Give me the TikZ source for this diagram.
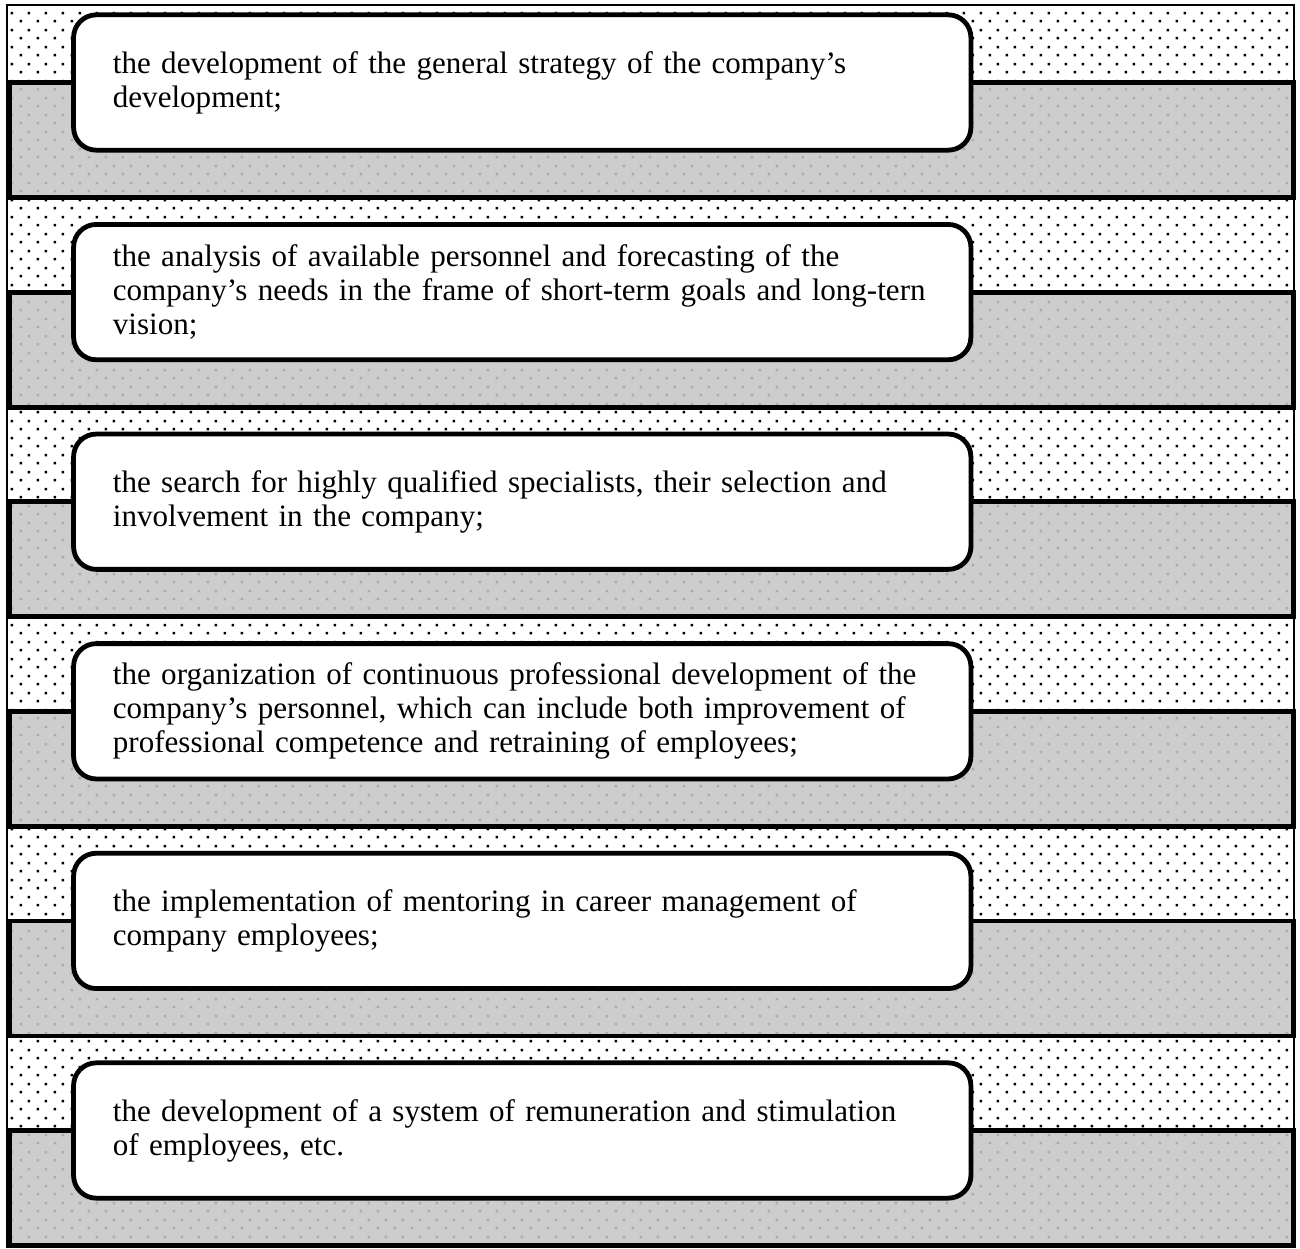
\documentclass[tikz,border=0pt]{standalone}
\usepackage{fontspec}
\setmainfont{Liberation Serif}
\usetikzlibrary{patterns}

% staggered square dots, 17px cell (0.75pt per unit)
\pgfdeclarepatternformonly{stagdots}{\pgfqpoint{0pt}{0pt}}{\pgfqpoint{12.75pt}{12.75pt}}{\pgfqpoint{12.75pt}{12.75pt}}{%
  \pgfpathrectangle{\pgfqpoint{2pt}{2pt}}{\pgfqpoint{2pt}{2pt}}%
  \pgfpathrectangle{\pgfqpoint{8.375pt}{8.375pt}}{\pgfqpoint{2pt}{2pt}}%
  \pgfusepath{fill}}

\definecolor{bandgray}{RGB}{205,205,205}
\definecolor{banddot}{RGB}{172,172,172}

\tikzset{
  frame/.style={draw=black, line width=1.1pt},
  band/.style={draw=black, line width=3.6pt},
  banddots/.style={pattern=stagdots, pattern color=banddot},
  itembox/.style={draw=black, line width=3.6pt, fill=white, rounded corners=17pt,
    minimum width=673pt, minimum height=101.5pt, text width=614pt,
    inner xsep=29.5pt, align=left,
    font=\fontsize{23.3}{25.5}\selectfont}
}

\begin{document}
\begin{tikzpicture}[x=0.75pt, y=-0.75pt]
\useasboundingbox (0,0) rectangle (1300,1249);

% dotted background inside the outer frame
\fill[pattern=stagdots, pattern color=black] (7,5) rectangle (1294,1247);
\draw[frame] (7,5) rectangle (1294,1247);

% grey bands behind each item
\foreach \i in {0,...,5}{
  \pgfmathsetmacro{\yt}{82.5+209.6*\i}
  \pgfmathsetmacro{\yb}{197.5+209.6*\i}
  \fill[bandgray] (9.5,\yt) rectangle (1293.5,\yb);
  \fill[banddots] (9.5,\yt) rectangle (1293.5,\yb);
  \draw[band] (9.5,\yt) rectangle (1293.5,\yb);
}

% items
\node[itembox] (b1) at (522.25,82.5) {the development of the general strategy of the company’s\\development;};
\node[itembox] (b2) at (522.25,292.1) {the analysis of available personnel and forecasting of the\\company’s needs in the frame of short-term goals and long-tern\\vision;};
\node[itembox] (b3) at (522.25,501.7) {the search for highly qualified specialists, their selection and\\involvement in the company;};
\node[itembox] (b4) at (522.25,711.3) {the organization of continuous professional development of the\\company’s personnel, which can include both improvement of\\professional competence and retraining of employees;};
\node[itembox] (b5) at (522.25,920.9) {the implementation of mentoring in career management of\\company employees;};
\node[itembox] (b6) at (522.25,1130.5) {the development of a system of remuneration and stimulation\\of employees, etc.};
\end{tikzpicture}
\end{document}
